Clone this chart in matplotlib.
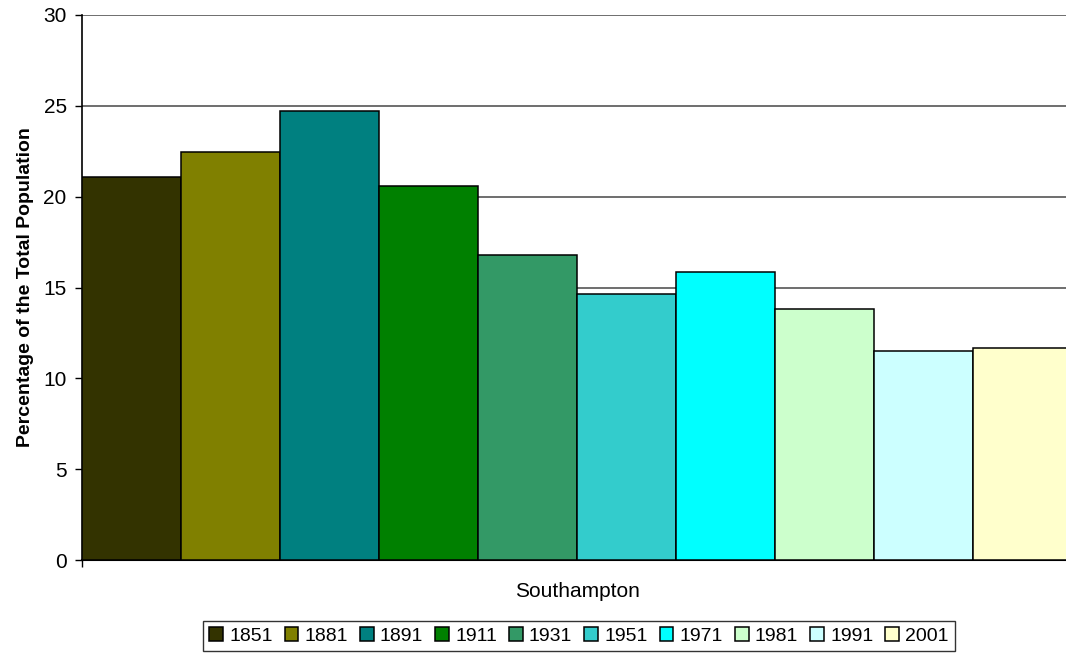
import matplotlib
matplotlib.use("Agg")
import matplotlib.pyplot as plt

plt.rcParams['font.family'] = ['Liberation Sans', 'DejaVu Sans']

years = ['1851', '1881', '1891', '1911', '1931', '1951', '1971', '1981', '1991', '2001']
percent = [21.08, 22.45, 24.7, 20.6, 16.8, 14.65, 15.85, 13.82, 11.5, 11.67]
colors = ['#333300', '#808000', '#008080', '#008000', '#339966',
          '#33CCCC', '#00FFFF', '#CCFFCC', '#CCFFFF', '#FFFFCC']
category = 'Southampton'

fig = plt.figure(figsize=(10.66, 6.53), dpi=100)
ax = fig.add_axes([82 / 1066, 93 / 653, 990 / 1066, 545 / 653])

for i, (yr, val, col) in enumerate(zip(years, percent, colors)):
    ax.bar(i, val, width=1.0, align='edge', color=col, edgecolor='black',
           linewidth=1.1, label=yr, zorder=3)

ax.set_xlim(0, len(years))
ax.set_ylim(0, 30)
ax.set_yticks(range(0, 31, 5))
ax.yaxis.grid(True, color='#555555', linewidth=1.2, zorder=0)
ax.tick_params(axis='y', direction='out', length=5, width=1, labelsize=15, pad=6)

ax.set_xticks([len(years) / 2])
ax.set_xticklabels([category], fontsize=15)
ax.tick_params(axis='x', length=0, pad=16)
ax.set_xticks([0, len(years)], minor=True)
ax.tick_params(axis='x', which='minor', direction='out', length=5, width=1)

for side in ('top', 'right'):
    ax.spines[side].set_visible(False)
ax.spines['left'].set_linewidth(1.2)
ax.spines['bottom'].set_linewidth(1.5)

ax.set_ylabel('Percentage of the Total Population', fontsize=14,
              fontweight='bold', labelpad=7)

leg = ax.legend(loc='center', bbox_to_anchor=(497 / 990, -76 / 545), ncol=len(years),
                fontsize=14, frameon=True, fancybox=False, edgecolor='black',
                handlelength=0.7, handleheight=0.7, handletextpad=0.32,
                columnspacing=0.62, borderpad=0.3, borderaxespad=0)
leg.get_frame().set_linewidth(1)

fig.savefig('out.png', dpi=100)
